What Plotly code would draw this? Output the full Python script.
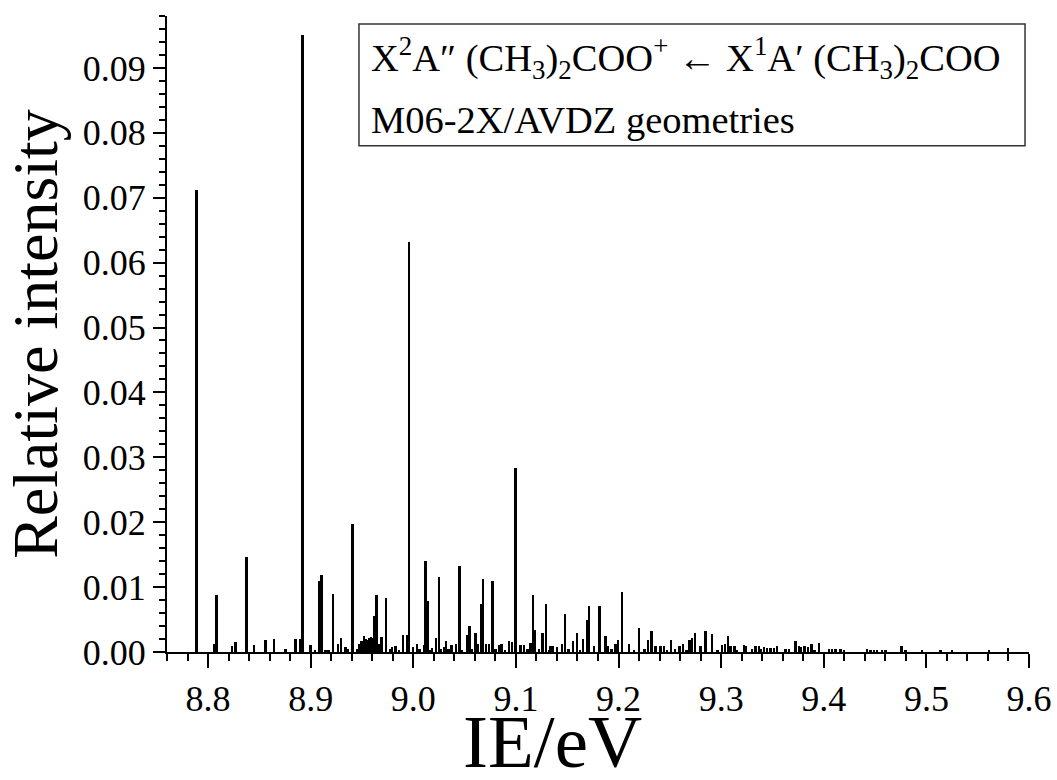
import plotly.graph_objects as go

# Stick spectrum: ionization energies (eV) and relative intensities
IE = [8.789, 8.8065, 8.8083, 8.8237, 8.827, 8.8377, 8.8449, 8.8563, 8.8643, 8.8758,
      8.8855, 8.8902, 8.8923, 8.9001, 8.9043, 8.9082, 8.9108, 8.914, 8.918, 8.9218,
      8.927, 8.930, 8.9342, 8.941, 8.9472, 8.9498, 8.952, 8.954, 8.956, 8.9575,
      8.9589, 8.9605, 8.9618, 8.9644, 8.9667, 8.9693, 8.9735, 8.9796, 8.983, 8.9903,
      8.9942, 8.9959, 8.9998, 9.004, 9.0105, 9.0122, 9.0144, 9.0186, 9.0225, 9.0251,
      9.030, 9.0323, 9.0375, 9.042, 9.0453, 9.0527, 9.0551, 9.0609, 9.0635, 9.0664,
      9.068, 9.0712, 9.0739, 9.0775, 9.0804, 9.0836, 9.0862, 9.0934, 9.0966, 9.0999,
      9.1048, 9.108, 9.1145, 9.1171, 9.1187, 9.1226, 9.1262, 9.1294, 9.134, 9.1363,
      9.1405, 9.1453, 9.148, 9.1558, 9.1596, 9.1655, 9.1697, 9.1713, 9.1762, 9.1818,
      9.1876, 9.1899, 9.1974, 9.1999, 9.2038, 9.2103, 9.2201, 9.2291, 9.2325, 9.2364,
      9.2412, 9.2444, 9.2516, 9.2597, 9.2633, 9.2695, 9.272, 9.2747, 9.2802, 9.2851,
      9.2915, 9.3013, 9.3039, 9.3068, 9.3094, 9.3134, 9.3156, 9.3224, 9.3241, 9.3305,
      9.3338, 9.337, 9.3393, 9.3419, 9.3451, 9.3484, 9.3517, 9.3549, 9.3631, 9.3663,
      9.3728, 9.376, 9.3783, 9.3816, 9.3848, 9.3884, 9.3913, 9.3955, 9.4053, 9.4085,
      9.4118, 9.4167, 9.4199, 9.4426, 9.4459, 9.4491, 9.4523, 9.4572, 9.4605, 9.4761,
      9.48, 9.4962, 9.5141, 9.5254, 9.5612, 9.58,
      8.9155, 8.9365, 8.9455, 8.9775, 8.9865, 9.0065, 9.0165, 9.0275, 9.0345, 9.0475,
      9.0575, 9.0895, 9.1115, 9.1325, 9.1515, 9.1625, 9.1935, 9.2155, 9.2255, 9.2475,
      9.2555, 9.2665, 9.2965]
INT = [0.0712, 0.0013, 0.0088, 0.0010, 0.0016, 0.0147, 0.0011, 0.0019, 0.0020, 0.0005,
       0.0020, 0.0020, 0.0950, 0.0011, 0.0003, 0.0110, 0.0118, 0.0003, 0.0003, 0.0090,
       0.0013, 0.0021, 0.0007, 0.0197, 0.0013, 0.0017, 0.0024, 0.0020, 0.0018, 0.0022,
       0.0023, 0.0021, 0.0055, 0.0088, 0.0012, 0.0023, 0.0083, 0.0008, 0.0010, 0.0026,
       0.0026, 0.0632, 0.0007, 0.0013, 0.0011, 0.0140, 0.0079, 0.0006, 0.0021, 0.0115,
       0.0007, 0.0017, 0.0011, 0.0012, 0.0132, 0.0026, 0.0040, 0.0030, 0.0012, 0.0074,
       0.0112, 0.0012, 0.0013, 0.0109, 0.0004, 0.0011, 0.0013, 0.0017, 0.0016, 0.0284,
       0.0011, 0.0011, 0.0014, 0.0088, 0.0034, 0.0004, 0.0029, 0.0074, 0.0010, 0.0009,
       0.0008, 0.0013, 0.0059, 0.0017, 0.0030, 0.0020, 0.0050, 0.0071, 0.0010, 0.0071,
       0.0024, 0.0010, 0.0013, 0.0018, 0.0093, 0.0013, 0.0037, 0.0018, 0.0033, 0.0010,
       0.0009, 0.0009, 0.0018, 0.0009, 0.0013, 0.0018, 0.0022, 0.0030, 0.0009, 0.0033,
       0.0027, 0.0011, 0.0012, 0.0025, 0.0010, 0.0009, 0.0003, 0.0011, 0.0010, 0.0005,
       0.0009, 0.0009, 0.0005, 0.0007, 0.0006, 0.0006, 0.0006, 0.0009, 0.0004, 0.0005,
       0.0017, 0.0010, 0.0007, 0.0009, 0.0007, 0.0012, 0.0003, 0.0014, 0.0004, 0.0004,
       0.0004, 0.0004, 0.0003, 0.0005, 0.0003, 0.0003, 0.0003, 0.0003, 0.0002, 0.0010,
       0.0003, 0.0002, 0.0002, 0.0002, 0.0002, 0.0006,
       0.0003, 0.0004, 0.0005, 0.0004, 0.0003, 0.0004, 0.0003, 0.0005, 0.0004, 0.0003,
       0.0004, 0.0003, 0.0004, 0.0003, 0.0004, 0.0003, 0.0004, 0.0003, 0.0004, 0.0003,
       0.0004, 0.0003, 0.0003]

X_RANGE = [8.76, 9.6]
Y_RANGE = [0, 0.098]
X_TITLE = "IE/eV"
Y_TITLE = "Relative intensity"
LEGEND_LINE1 = ("X<sup>2</sup>A\u2033 (CH<sub>3</sub>)<sub>2</sub>COO<sup>+</sup> \u2190 "
                "X<sup>1</sup>A\u2032 (CH<sub>3</sub>)<sub>2</sub>COO")
LEGEND_LINE2 = "M06-2X/AVDZ geometries"

FONT = "Liberation Serif, Times New Roman, serif"

fig = go.Figure()
fig.add_trace(go.Bar(
    x=IE, y=INT, width=0.0019,
    marker=dict(color="black", line=dict(width=0)),
    showlegend=False,
))

axis_common = dict(
    showline=True, linecolor="black", linewidth=2,
    ticks="outside", tickcolor="black", tickwidth=2,
    showgrid=False, zeroline=False, mirror=False, automargin=False,
    tickfont=dict(family=FONT, size=36, color="black"),
)

fig.update_xaxes(
    range=X_RANGE, dtick=0.1, tick0=8.8, tickformat=".1f", ticklen=14,
    minor=dict(dtick=0.02, tick0=8.8, ticklen=7, tickwidth=2, tickcolor="black", ticks="outside"),
    **axis_common,
)
fig.update_yaxes(
    range=Y_RANGE, dtick=0.01, tick0=0, tickformat=".2f", ticklen=12,
    minor=dict(dtick=0.002, tick0=0, ticklen=6, tickwidth=2, tickcolor="black", ticks="outside"),
    title=dict(text=Y_TITLE, font=dict(family=FONT, size=64, color="black"), standoff=16),
    **axis_common,
)

# x-axis title (placed left of centre as in the reference)
fig.add_annotation(xref="paper", yref="paper", x=0.447, y=-0.073,
                   xanchor="center", yanchor="top", showarrow=False,
                   text=X_TITLE, font=dict(family=FONT, size=75, color="black"))

# legend box
fig.add_shape(type="rect", xref="paper", yref="paper",
              x0=0.2227, x1=0.9954, y0=0.796, y1=0.9874,
              line=dict(color="#333333", width=1.5), fillcolor="white", layer="above")
fig.add_annotation(xref="paper", yref="paper", x=0.2344, y=0.979,
                   xanchor="left", yanchor="top", showarrow=False, align="left",
                   text=LEGEND_LINE1, font=dict(family=FONT, size=38.5, color="black"))
fig.add_annotation(xref="paper", yref="paper", x=0.2344, y=0.8727,
                   xanchor="left", yanchor="top", showarrow=False, align="left",
                   text=LEGEND_LINE2, font=dict(family=FONT, size=38.5, color="black"))

fig.update_layout(
    width=1057, height=780, autosize=False,
    margin=dict(l=167, r=28, t=16, b=128),
    paper_bgcolor="white", plot_bgcolor="white",
    bargap=0, barmode="overlay",
)

fig.write_html("out.html", config={"displayModeBar": False},
               post_script="document.body.style.margin='0px';")
